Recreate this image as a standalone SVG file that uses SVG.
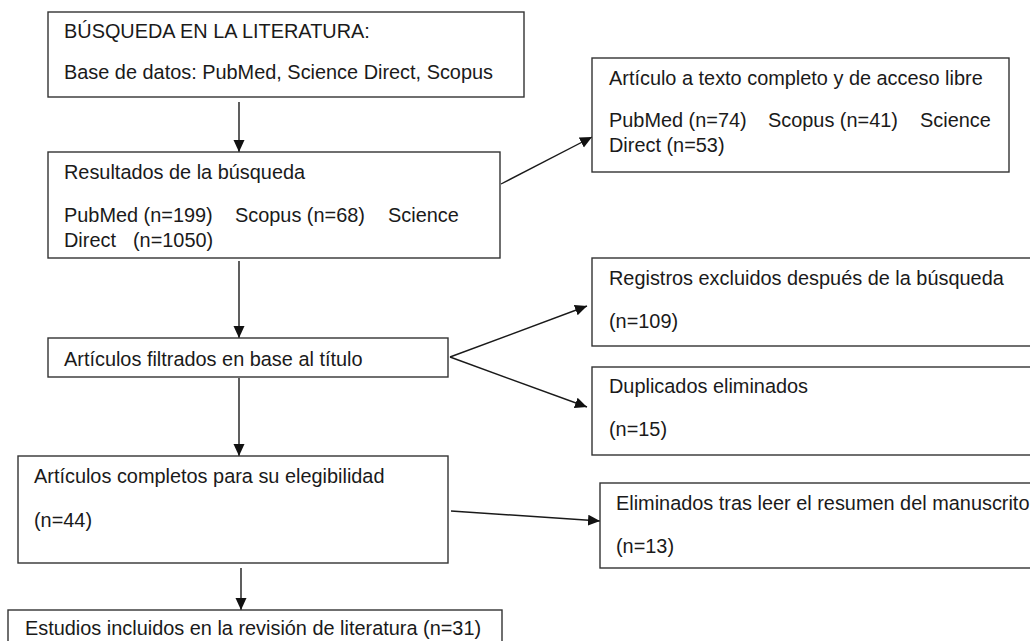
<svg xmlns="http://www.w3.org/2000/svg" width="1030" height="641" viewBox="0 0 1030 641">
<defs>
<marker id="ah" markerUnits="userSpaceOnUse" markerWidth="13" markerHeight="12" refX="12" refY="5.5" orient="auto">
<path d="M0,0 L12,5.5 L0,11 z" fill="#111"/>
</marker>
<style>
.box{fill:#fff;stroke:#333;stroke-width:1.4}
.t{font-family:"Liberation Sans",Arial,sans-serif;font-size:19.9px;fill:#1a1a1a}
.c{fill:none;stroke:#1a1a1a;stroke-width:1.4;marker-end:url(#ah)}
</style>
</defs>
<rect width="1030" height="641" fill="#fff"/>
<g id="connectors">
<line class="c" x1="239" y1="102" x2="239" y2="152"/>
<line class="c" x1="239" y1="261" x2="239" y2="338"/>
<line class="c" x1="239" y1="378" x2="239" y2="456"/>
<line class="c" x1="241" y1="568" x2="241" y2="610"/>
<line class="c" x1="501" y1="184" x2="592" y2="137"/>
<line class="c" x1="450" y1="357" x2="587" y2="306"/>
<line class="c" x1="450" y1="357" x2="587" y2="407"/>
<line class="c" x1="451" y1="511" x2="600" y2="521"/>
</g>
<g id="busqueda">
<rect class="box" x="48" y="12" width="476" height="85"/>
<text class="t" x="64" y="38">BÚSQUEDA EN LA LITERATURA:</text>
<text class="t" x="64" y="79">Base de datos: PubMed, Science Direct, Scopus</text>
</g>
<g id="resultados">
<rect class="box" x="48" y="152" width="452" height="106"/>
<text class="t" x="64" y="179">Resultados de la búsqueda</text>
<text class="t" y="222"><tspan x="64">PubMed (n=199)</tspan><tspan x="235">Scopus (n=68)</tspan><tspan x="388">Science</tspan></text>
<text class="t" y="247"><tspan x="64">Direct</tspan><tspan x="133">(n=1050)</tspan></text>
</g>
<g id="texto-completo">
<rect class="box" x="592" y="58" width="417" height="114"/>
<text class="t" x="609" y="85">Artículo a texto completo y de acceso libre</text>
<text class="t" y="127"><tspan x="609">PubMed (n=74)</tspan><tspan x="768">Scopus (n=41)</tspan><tspan x="920">Science</tspan></text>
<text class="t" x="609" y="152">Direct (n=53)</text>
</g>
<g id="filtrados">
<rect class="box" x="48" y="338" width="400" height="39"/>
<text class="t" x="64" y="366">Artículos filtrados en base al título</text>
</g>
<g id="excluidos">
<rect class="box" x="592" y="258" width="450" height="88"/>
<text class="t" x="609" y="285">Registros excluidos después de la búsqueda</text>
<text class="t" x="609" y="328">(n=109)</text>
</g>
<g id="duplicados">
<rect class="box" x="592" y="367" width="450" height="88"/>
<text class="t" x="609" y="393">Duplicados eliminados</text>
<text class="t" x="609" y="436">(n=15)</text>
</g>
<g id="completos">
<rect class="box" x="18" y="456" width="430" height="107"/>
<text class="t" x="34" y="483">Artículos completos para su elegibilidad</text>
<text class="t" x="34" y="527">(n=44)</text>
</g>
<g id="eliminados">
<rect class="box" x="600" y="483" width="450" height="85"/>
<text class="t" x="616" y="510">Eliminados tras leer el resumen del manuscrito</text>
<text class="t" x="616" y="553">(n=13)</text>
</g>
<g id="incluidos">
<rect class="box" x="8" y="610" width="494" height="40"/>
<text class="t" x="25" y="635">Estudios incluidos en la revisión de literatura (n=31)</text>
</g>
</svg>
